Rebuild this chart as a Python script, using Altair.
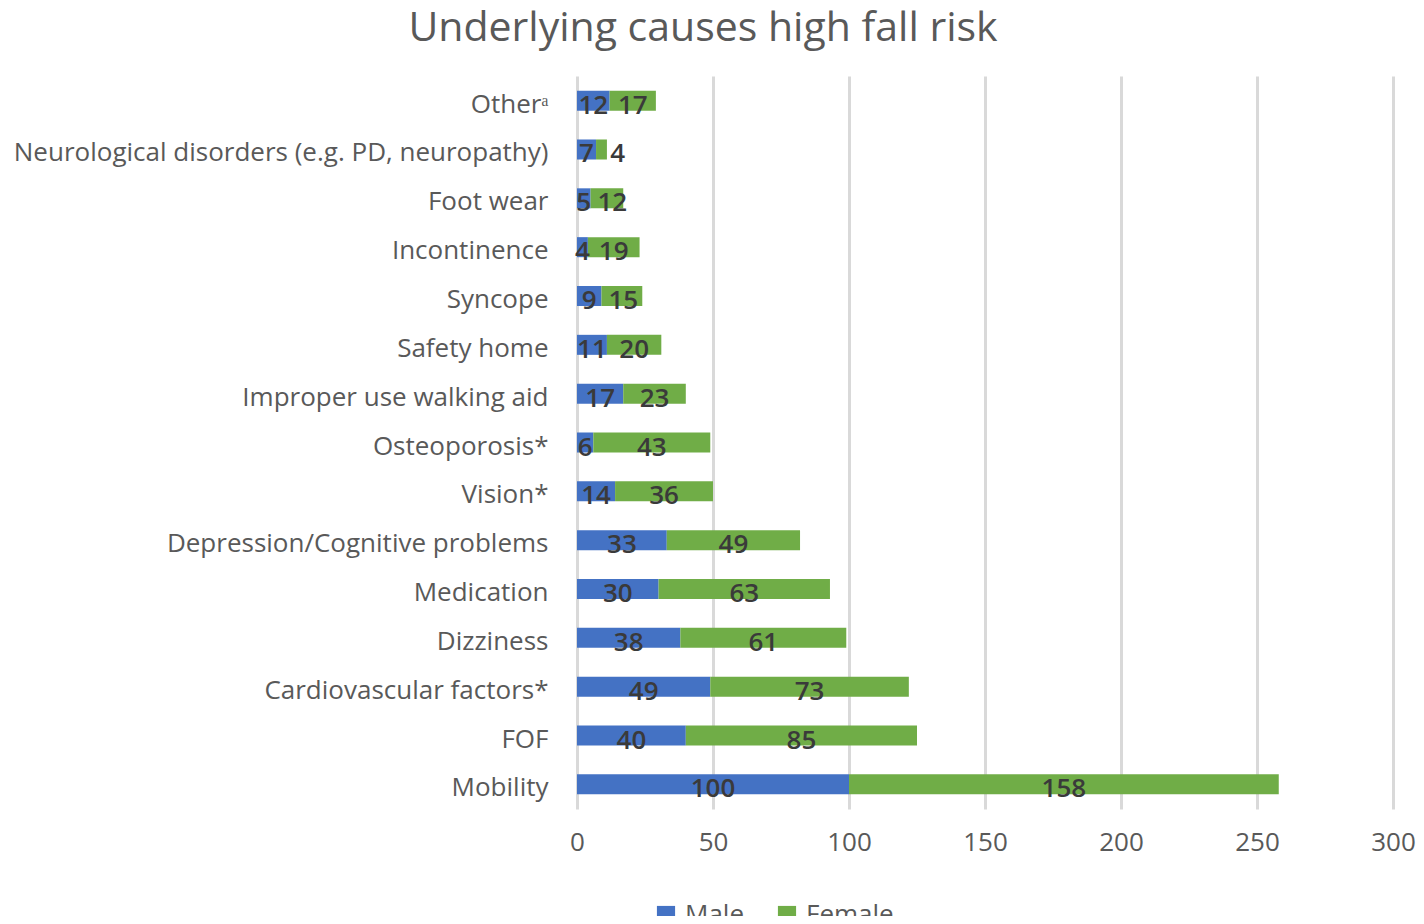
import altair as alt
import pandas as pd

causes = [
    "Otherᵃ",
    "Neurological disorders (e.g. PD, neuropathy)",
    "Foot wear",
    "Incontinence",
    "Syncope",
    "Safety home",
    "Improper use walking aid",
    "Osteoporosis*",
    "Vision*",
    "Depression/Cognitive problems",
    "Medication",
    "Dizziness",
    "Cardiovascular factors*",
    "FOF",
    "Mobility",
]
male = [12, 7, 5, 4, 9, 11, 17, 6, 14, 33, 30, 38, 49, 40, 100]
female = [17, 4, 12, 19, 15, 20, 23, 43, 36, 49, 63, 61, 73, 85, 158]
x_ticks = [0, 50, 100, 150, 200, 250, 300]

rows = []
for c, m, f in zip(causes, male, female):
    rows.append({"cause": c, "sex": "Male", "value": m, "ord": 0})
    rows.append({"cause": c, "sex": "Female", "value": f, "ord": 1})
df = pd.DataFrame(rows)

FONT = "Open Sans"
GRAY = "#595959"

base = alt.Chart(df).transform_stack(
    stack="value", groupby=["cause"], as_=["x0", "x1"], sort=[alt.SortField("ord")]
).transform_calculate(
    mid="datum.ord == 1 ? max((datum.x0 + datum.x1) / 2, datum.x0 + 8) : (datum.x0 + datum.x1) / 2"
)

y_enc = alt.Y(
    "cause:N",
    sort=causes,
    title=None,
    scale=alt.Scale(paddingInner=0.59, paddingOuter=0.3),
    axis=alt.Axis(
        labelFont=FONT, labelFontSize=26, labelColor=GRAY, labelPadding=29,
        labelOffset=4, ticks=False, domain=False, labelLimit=800,
    ),
)

bars = base.mark_bar().encode(
    x=alt.X(
        "x0:Q",
        title=None,
        scale=alt.Scale(domain=[0, 300], nice=False),
        axis=alt.Axis(
            values=x_ticks, labelFont=FONT, labelFontSize=26, labelColor=GRAY,
            labelPadding=20, labelFlush=False, ticks=False, domain=False,
            grid=True, gridColor="#d9d9d9", gridWidth=3,
        ),
    ),
    x2="x1:Q",
    y=y_enc,
    color=alt.Color(
        "sex:N",
        scale=alt.Scale(domain=["Male", "Female"], range=["#4472C4", "#70AD47"]),
        legend=alt.Legend(
            title=None, orient="none", direction="horizontal",
            legendX=76, legendY=826, symbolType="square", symbolSize=330,
            symbolStrokeWidth=0, labelFont=FONT, labelFontSize=26,
            labelColor=GRAY, columnPadding=30, labelOffset=6,
        ),
    ),
    order=alt.Order("ord:Q"),
)

labels = base.mark_text(
    font=FONT, fontSize=26, fontWeight=600, color="#3a3a3a", dy=5
).encode(
    x="mid:Q",
    y=alt.Y("cause:N", sort=causes),
    text="value:Q",
)

chart = alt.layer(bars, labels).properties(
    width=816,
    height=733,
    title=alt.TitleParams(
        "Underlying causes high fall risk", font=FONT, fontSize=41,
        fontWeight="normal", color=GRAY, anchor="middle", dx=-282, offset=26,
    ),
    autosize=alt.AutoSizeParams(type="none"),
    padding={"left": 569, "top": 68, "right": 23, "bottom": 107},
).configure_view(stroke=None)

chart.save("out.html", embed_options={"renderer": "svg", "actions": False})
